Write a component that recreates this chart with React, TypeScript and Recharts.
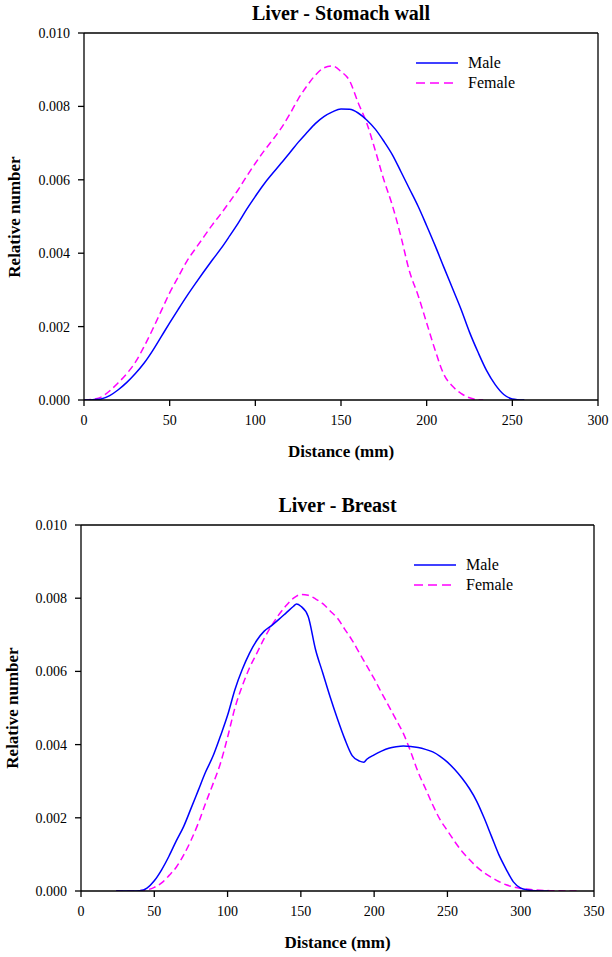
import React from 'react';
import { LineChart, Line, XAxis, YAxis, ReferenceLine } from 'recharts';

// ---------- Panel 1: Liver - Stomach wall ----------
const stomachMaleX = [0, 5, 10, 15, 20, 25, 30, 35, 40, 45, 50, 55, 60, 65, 70, 75, 80, 85, 90, 95, 100, 105, 110, 115, 120, 125, 130, 135, 140, 145, 150, 155, 160, 165, 170, 175, 180, 185, 190, 195, 200, 205, 210, 215, 220, 225, 230, 235, 240, 245, 250, 257];
const stomachMaleY = [0, 0.00001, 0.00003, 0.00012, 0.00028, 0.00048, 0.00072, 0.001, 0.00134, 0.00172, 0.0021, 0.00247, 0.00283, 0.00317, 0.0035, 0.00382, 0.00413, 0.00447, 0.00482, 0.0052, 0.00555, 0.00588, 0.00617, 0.00645, 0.00673, 0.00702, 0.00728, 0.00753, 0.00772, 0.00785, 0.00793, 0.00792, 0.00782, 0.00763, 0.00738, 0.00705, 0.00668, 0.00622, 0.00575, 0.00528, 0.00475, 0.0042, 0.00362, 0.00305, 0.00248, 0.00185, 0.0013, 0.0008, 0.00042, 0.00015, 0.00003, 0];

const stomachFemaleX = [0, 5, 10, 15, 20, 25, 30, 35, 40, 45, 50, 55, 60, 65, 70, 75, 80, 85, 90, 95, 100, 105, 110, 115, 120, 125, 130, 135, 140, 145, 150, 155, 160, 165, 170, 175, 180, 185, 190, 195, 200, 205, 210, 215, 220, 225, 230, 233];
const stomachFemaleY = [0, 0.00002, 0.00008, 0.00025, 0.00047, 0.00072, 0.00103, 0.00145, 0.00192, 0.00242, 0.00292, 0.00335, 0.00378, 0.00412, 0.00445, 0.00478, 0.00508, 0.0054, 0.00573, 0.0061, 0.00645, 0.00678, 0.00708, 0.0074, 0.00778, 0.0082, 0.00855, 0.00885, 0.00905, 0.0091, 0.00895, 0.0087, 0.0081, 0.00755, 0.0068, 0.006, 0.0053, 0.00445, 0.0035, 0.00285, 0.0021, 0.00135, 0.0007, 0.00038, 0.00018, 0.00006, 0.00001, 0];

// ---------- Panel 2: Liver - Breast ----------
const breastMaleX = [24, 30, 35, 40, 45, 50, 55, 60, 65, 70, 75, 80, 85, 90, 95, 100, 105, 110, 115, 120, 125, 130, 135, 140, 145, 147, 150, 155, 160, 165, 170, 175, 180, 185, 190, 193, 195, 200, 205, 210, 215, 220, 225, 230, 235, 240, 245, 250, 255, 260, 265, 270, 275, 280, 285, 290, 295, 300, 305, 310, 319];
const breastMaleY = [0, 0, 0, 0.00001, 0.00008, 0.00028, 0.00058, 0.00095, 0.00137, 0.00176, 0.00225, 0.00275, 0.00325, 0.00368, 0.00422, 0.0048, 0.0055, 0.00605, 0.0065, 0.00685, 0.0071, 0.00725, 0.00742, 0.0076, 0.00778, 0.00784, 0.00778, 0.0075, 0.0066, 0.00595, 0.0053, 0.0047, 0.00415, 0.0037, 0.00355, 0.00352, 0.0036, 0.00372, 0.00382, 0.0039, 0.00394, 0.00396, 0.00395, 0.00392, 0.00387, 0.0038, 0.00368, 0.00352, 0.00332, 0.00308, 0.0028, 0.00245, 0.002, 0.0015, 0.001, 0.0006, 0.00025, 0.00008, 0.00003, 0.00001, 0];

const breastFemaleX = [24, 30, 35, 40, 45, 50, 55, 60, 65, 70, 75, 80, 85, 90, 95, 100, 105, 110, 115, 120, 125, 130, 135, 140, 145, 150, 155, 160, 165, 170, 175, 180, 185, 190, 195, 200, 205, 210, 215, 220, 225, 230, 235, 240, 245, 250, 255, 260, 265, 270, 275, 280, 285, 290, 295, 300, 310, 320, 339];
const breastFemaleY = [0, 0, 0, 0.00001, 0.00003, 0.0001, 0.00022, 0.00042, 0.00065, 0.00098, 0.00138, 0.00185, 0.0024, 0.00292, 0.00347, 0.0042, 0.005, 0.0056, 0.0061, 0.0065, 0.0069, 0.00725, 0.00755, 0.0078, 0.008, 0.0081, 0.00808, 0.00798, 0.00785, 0.00765, 0.00745, 0.00715, 0.00685, 0.0065, 0.00615, 0.0058, 0.00542, 0.00505, 0.00468, 0.0043, 0.0038, 0.00325, 0.0028, 0.00235, 0.00195, 0.00165, 0.00135, 0.00108, 0.00086, 0.00066, 0.0005, 0.00037, 0.00026, 0.00017, 0.00011, 0.00007, 0.00003, 0.00001, 0];

const stomachXTicks = [0, 50, 100, 150, 200, 250, 300];
const breastXTicks = [0, 50, 100, 150, 200, 250, 300, 350];
const yTicks = [0, 0.002, 0.004, 0.006, 0.008, 0.01];

const toRows = (xs: number[], ys: number[]) => xs.map((x, i) => ({ x, y: ys[i] }));

const FONT = "'Liberation Serif', 'Times New Roman', serif";
const MALE = '#0000FF';
const FEMALE = '#FF00FF';

type PanelProps = {
  top: number;
  height: number;
  title: string;
  maleRows: { x: number; y: number }[];
  femaleRows: { x: number; y: number }[];
  xMax: number;
  xTicks: number[];
  plotLeft: number;
  plotRight: number;
  plotTop: number;
  plotBottom: number;
  yTitleX: number;
  legendX: number;
  legendY: number;
};

const Panel = (p: PanelProps) => {
  const plotW = p.plotRight - p.plotLeft;
  const centerX = p.plotLeft + plotW / 2;
  const tickStyle = { fill: '#000', fontSize: 14, fontFamily: FONT };
  return (
    <div style={{ position: 'absolute', left: 0, top: p.top, width: 612, height: p.height }}>
      <div style={{ position: 'absolute', left: centerX - 150, width: 300, top: p.plotTop - 31, lineHeight: '22px', textAlign: 'center', fontFamily: FONT, fontWeight: 'bold', fontSize: 20, color: '#000' }}>{p.title}</div>
      <LineChart
        width={612}
        height={p.height}
        margin={{ top: p.plotTop, right: 612 - p.plotRight, left: 0, bottom: p.height - p.plotBottom - 40 }}
      >
        <XAxis
          dataKey="x"
          type="number"
          domain={[0, p.xMax]}
          ticks={p.xTicks}
          allowDuplicatedCategory={false}
          height={40}
          tickSize={6}
          tickMargin={9}
          tick={tickStyle}
          axisLine={{ stroke: '#000', strokeWidth: 1.3 }}
          tickLine={{ stroke: '#000', strokeWidth: 1.3 }}
          allowDataOverflow
        />
        <YAxis
          dataKey="y"
          type="number"
          domain={[0, 0.01]}
          ticks={yTicks}
          width={p.plotLeft}
          tickSize={6}
          tickMargin={8}
          tick={tickStyle}
          tickFormatter={(v: number) => v.toFixed(3)}
          axisLine={{ stroke: '#000', strokeWidth: 1.3 }}
          tickLine={{ stroke: '#000', strokeWidth: 1.3 }}
          allowDataOverflow
        />
        <ReferenceLine y={0.01} stroke="#000" strokeWidth={1.3} ifOverflow="visible" />
        <ReferenceLine x={p.xMax} stroke="#000" strokeWidth={1.3} ifOverflow="visible" />
        <Line data={p.femaleRows} dataKey="y" type="monotone" stroke={FEMALE} strokeWidth={1.5} strokeDasharray="7 4" dot={false} isAnimationActive={false} />
        <Line data={p.maleRows} dataKey="y" type="monotone" stroke={MALE} strokeWidth={1.5} dot={false} isAnimationActive={false} />
      </LineChart>
      <div style={{ position: 'absolute', left: centerX - 100, width: 200, top: p.plotBottom + 42, lineHeight: '20px', textAlign: 'center', fontFamily: FONT, fontWeight: 'bold', fontSize: 17, color: '#000' }}>Distance (mm)</div>
      <div style={{ position: 'absolute', left: p.yTitleX - 100, width: 200, top: (p.plotTop + p.plotBottom) / 2 - 10, lineHeight: '20px', textAlign: 'center', transform: 'rotate(-90deg)', fontFamily: FONT, fontWeight: 'bold', fontSize: 17, color: '#000' }}>Relative number</div>
      <div style={{ position: 'absolute', left: p.legendX, top: p.legendY, fontFamily: FONT, fontSize: 16, color: '#000' }}>
        <div style={{ display: 'flex', alignItems: 'center', height: 20 }}>
          <svg width={42} height={6} style={{ marginRight: 10 }}><line x1={0} y1={3} x2={42} y2={3} stroke={MALE} strokeWidth={1.5} /></svg>
          <span>Male</span>
        </div>
        <div style={{ display: 'flex', alignItems: 'center', height: 20 }}>
          <svg width={42} height={6} style={{ marginRight: 10 }}><line x1={0} y1={3} x2={42} y2={3} stroke={FEMALE} strokeWidth={1.5} strokeDasharray="9 5" /></svg>
          <span>Female</span>
        </div>
      </div>
    </div>
  );
};

export default function App() {
  return (
    <div style={{ position: 'absolute', left: 0, top: 0, width: 612, height: 957, background: '#fff', overflow: 'hidden' }}>
      <Panel
        top={0}
        height={480}
        title="Liver - Stomach wall"
        maleRows={toRows(stomachMaleX, stomachMaleY)}
        femaleRows={toRows(stomachFemaleX, stomachFemaleY)}
        xMax={300}
        xTicks={stomachXTicks}
        plotLeft={84}
        plotRight={598}
        plotTop={33}
        plotBottom={400}
        yTitleX={15}
        legendX={416}
        legendY={53}
      />
      <Panel
        top={480}
        height={477}
        title="Liver - Breast"
        maleRows={toRows(breastMaleX, breastMaleY)}
        femaleRows={toRows(breastFemaleX, breastFemaleY)}
        xMax={350}
        xTicks={breastXTicks}
        plotLeft={81}
        plotRight={594}
        plotTop={45}
        plotBottom={411}
        yTitleX={13}
        legendX={414}
        legendY={75}
      />
    </div>
  );
}
